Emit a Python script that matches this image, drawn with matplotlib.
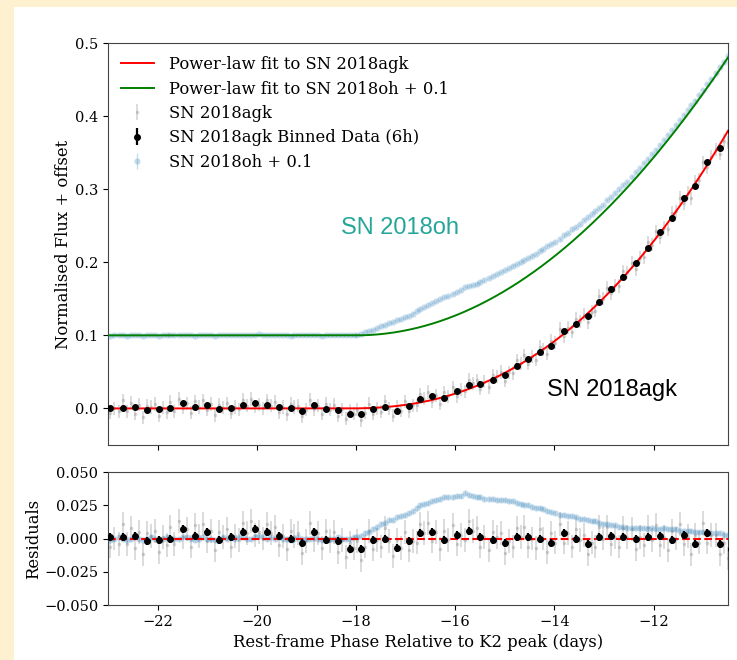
import numpy as np
import matplotlib.pyplot as plt
from matplotlib.patches import Rectangle

plt.rcParams['font.family'] = 'serif'

# 6h bin centres (rest-frame days from K2 peak)
phase_bin = [-22.95, -22.70, -22.46, -22.21, -21.98, -21.74, -21.49, -21.25, -21.00,
             -20.76, -20.52, -20.27, -20.03, -19.79, -19.56, -19.32, -19.08, -18.85,
             -18.60, -18.37, -18.13, -17.90, -17.65, -17.42, -17.17, -16.94, -16.70,
             -16.46, -16.22, -15.97, -15.73, -15.49, -15.24, -15.00, -14.76, -14.53,
             -14.30, -14.06, -13.81, -13.57, -13.33, -13.10, -12.85, -12.61, -12.36,
             -12.12, -11.88, -11.63, -11.39, -11.16, -10.92, -10.67, -10.43]

# binned SN 2018agk residuals from the power-law fit
resid_bin = [0.001, 0.001, 0.002, -0.002, -0.001, 0.000, 0.007, 0.002, 0.005,
             -0.001, 0.001, 0.005, 0.007, 0.005, 0.002, 0.000, -0.003, 0.005,
             -0.001, -0.002, -0.008, -0.008, -0.001, 0.000, -0.007, -0.002, 0.004,
             0.005, -0.001, 0.003, 0.006, 0.001, -0.001, -0.003, 0.001, 0.001,
             0.000, -0.003, 0.004, 0.000, -0.004, 0.001, 0.002, 0.001, 0.000,
             0.001, 0.002, -0.001, 0.003, -0.004, 0.004, -0.004, -0.008]

# unbinned SN 2018agk residuals, three cadences per bin
resid_raw = [
    [0.009, -0.006, 0.000], [-0.004, 0.011, -0.004], [0.008, -0.007, 0.005],
    [-0.012, 0.004, 0.002], [0.006, -0.010, 0.001], [-0.005, 0.009, -0.004],
    [0.013, 0.001, 0.007], [-0.006, 0.010, 0.002], [0.011, -0.002, 0.006],
    [-0.009, 0.005, 0.001], [0.007, -0.006, 0.002], [-0.001, 0.012, 0.004],
    [0.013, 0.003, 0.005], [0.000, 0.011, 0.004], [0.009, -0.005, 0.002],
    [-0.008, 0.006, 0.002], [0.004, -0.011, -0.002], [0.012, -0.001, 0.004],
    [-0.007, 0.006, -0.002], [0.005, -0.010, -0.001], [-0.014, -0.003, -0.007],
    [-0.002, -0.016, -0.006], [0.006, -0.008, -0.001], [-0.006, 0.008, -0.002],
    [-0.013, -0.001, -0.007], [0.005, -0.009, -0.002], [-0.003, 0.011, 0.004],
    [0.012, -0.002, 0.005], [-0.008, 0.006, -0.001], [0.010, -0.004, 0.003],
    [-0.001, 0.013, 0.006], [0.008, -0.006, 0.001], [-0.009, 0.005, 0.001],
    [0.004, -0.011, -0.002], [-0.006, 0.008, 0.001], [0.009, -0.006, 0.000],
    [-0.007, 0.007, 0.000], [-0.010, 0.004, -0.003], [0.011, -0.003, 0.004],
    [-0.006, 0.007, -0.001], [0.003, -0.012, -0.003], [-0.006, 0.009, 0.000],
    [0.009, -0.004, 0.001], [-0.006, 0.008, 0.001], [0.007, -0.008, 0.001],
    [-0.005, 0.009, -0.001], [0.010, -0.005, 0.001], [-0.009, 0.006, 0.000],
    [0.011, -0.004, 0.002], [-0.012, 0.003, -0.003], [0.012, -0.003, 0.003],
    [0.003, -0.012, -0.003], [-0.015, -0.002, -0.007]]

# SN 2018oh residuals from its own power-law fit, three cadences per bin
resid_oh = [
    [0.000, -0.001, 0.000], [0.001, 0.000, -0.001], [0.000, 0.001, 0.000],
    [-0.001, 0.000, 0.001], [0.000, -0.001, 0.000], [0.001, 0.000, 0.000],
    [0.000, 0.001, 0.001], [0.000, -0.001, 0.000], [0.001, 0.000, 0.000],
    [-0.001, 0.000, 0.001], [0.000, 0.001, 0.000], [0.001, 0.001, 0.000],
    [0.000, 0.001, 0.002], [0.001, 0.000, 0.001], [0.000, 0.001, 0.000],
    [0.000, -0.001, 0.000], [0.001, 0.000, 0.000], [0.000, 0.001, 0.000],
    [-0.001, 0.000, 0.000], [0.000, 0.001, 0.000], [0.000, 0.000, 0.001],
    [0.001, 0.002, 0.004], [0.005, 0.007, 0.009], [0.011, 0.012, 0.014],
    [0.014, 0.016, 0.017], [0.018, 0.019, 0.021], [0.023, 0.025, 0.026],
    [0.027, 0.028, 0.029], [0.030, 0.031, 0.031], [0.031, 0.032, 0.032],
    [0.034, 0.033, 0.032], [0.031, 0.031, 0.030], [0.030, 0.030, 0.029],
    [0.029, 0.029, 0.028], [0.028, 0.027, 0.026], [0.025, 0.025, 0.024],
    [0.023, 0.023, 0.022], [0.021, 0.020, 0.019], [0.018, 0.018, 0.017],
    [0.017, 0.016, 0.015], [0.015, 0.014, 0.013], [0.013, 0.012, 0.011],
    [0.011, 0.010, 0.010], [0.009, 0.009, 0.008], [0.008, 0.008, 0.008],
    [0.008, 0.007, 0.008], [0.007, 0.007, 0.008], [0.007, 0.007, 0.007],
    [0.006, 0.006, 0.006], [0.006, 0.005, 0.005], [0.005, 0.005, 0.004],
    [0.004, 0.004, 0.003], [0.003, 0.003, 0.002]]

# power-law fit parameters: flux = amp * (t - t0)**n
agk_t0, agk_amp, agk_n = -18.2, 0.0032, 2.34
oh_t0, oh_amp, oh_n = -18.0, 0.00676, 2.0
oh_offset = 0.1

raw_err = 0.009
bin_err = 0.003
oh_err = 0.0015
raw_step = 0.08  # spacing of the unbinned cadences (days)


def power_law(t, t0, amp, n):
    dt = np.clip(t - t0, 0, None)
    return amp * dt ** n


t_bin = np.array(phase_bin)
r_bin = np.array(resid_bin)
t_raw = (t_bin[:, None] + np.array([-1, 0, 1]) * raw_step).ravel()
r_raw = np.array(resid_raw).ravel()
r_oh = np.array(resid_oh).ravel()
t_fit = np.linspace(-23, -10.5, 400)

agk_raw = power_law(t_raw, agk_t0, agk_amp, agk_n) + r_raw
agk_bin = power_law(t_bin, agk_t0, agk_amp, agk_n) + r_bin
oh_raw = power_law(t_raw, oh_t0, oh_amp, oh_n) + oh_offset + r_oh

fig = plt.figure(figsize=(7.37, 6.6), dpi=100, facecolor='#fdf1cf')
fig.add_artist(Rectangle((14 / 737, 0), 1, 1 - 7 / 660, transform=fig.transFigure,
                         facecolor='white', edgecolor='none', zorder=-10))

ax1 = fig.add_axes([0.1465, 0.3258, 0.8413, 0.609])
ax2 = fig.add_axes([0.1465, 0.0833, 0.8413, 0.2015])

raw_style = dict(fmt='o', color='grey', ms=2.5, mew=0, alpha=0.33, elinewidth=1.2)
oh_style = dict(fmt='o', color='C0', ms=4.5, mew=0, alpha=0.25, elinewidth=1)
bin_style = dict(fmt='o', color='k', ms=4, elinewidth=1.6)

# top panel: light curves and fits
ax1.plot(t_fit, power_law(t_fit, agk_t0, agk_amp, agk_n), color='red', lw=1.4,
         zorder=4, label='Power-law fit to SN 2018agk')
ax1.plot(t_fit, power_law(t_fit, oh_t0, oh_amp, oh_n) + oh_offset, color='green',
         lw=1.4, zorder=4, label='Power-law fit to SN 2018oh + 0.1')
ax1.errorbar(t_raw, agk_raw, yerr=raw_err, zorder=2, label='SN 2018agk', **raw_style)
ax1.errorbar(t_bin, agk_bin, yerr=bin_err, zorder=5,
             label='SN 2018agk Binned Data (6h)', **bin_style)
ax1.errorbar(t_raw, oh_raw, yerr=oh_err, zorder=3, label='SN 2018oh + 0.1', **oh_style)

ax1.text(-17.11, 0.247, 'SN 2018oh', color='#26a69a', fontsize=17,
         family='Liberation Sans', ha='center', va='center')
ax1.text(-12.83, 0.025, 'SN 2018agk', color='black', fontsize=17,
         family='Liberation Sans', ha='center', va='center')

ax1.set_xlim(-23, -10.5)
ax1.set_ylim(-0.05, 0.5)
ax1.set_xticks(range(-22, -11, 2))
ax1.tick_params(labelbottom=False, labelsize=10.5)
ax1.set_ylabel('Normalised Flux + offset', fontsize=11.8, labelpad=2)
ax1.legend(loc='upper left', frameon=False, fontsize=11.8,
           borderaxespad=0.4, handletextpad=0.9, labelspacing=0.45)

# bottom panel: residuals
ax2.errorbar(t_raw, r_raw, yerr=raw_err, zorder=2, **raw_style)
ax2.errorbar(t_raw, r_oh, yerr=oh_err, zorder=3, **oh_style)
ax2.axhline(0, color='red', ls='--', lw=1.5, zorder=4)
ax2.errorbar(t_bin, r_bin, yerr=bin_err, zorder=5, **bin_style)

ax2.set_xlim(-23, -10.5)
ax2.set_ylim(-0.05, 0.05)
ax2.set_xticks(range(-22, -11, 2))
ax2.set_yticks([-0.05, -0.025, 0, 0.025, 0.05])
ax2.tick_params(labelsize=10.5)
ax2.set_xlabel('Rest-frame Phase Relative to K2 peak (days)', fontsize=11.8)
ax2.set_ylabel('Residuals', fontsize=11.8, labelpad=1)

for ax in (ax1, ax2):
    for sp in ax.spines.values():
        sp.set_color('#444444')

fig.savefig('out.png', dpi=100, facecolor=fig.get_facecolor())
